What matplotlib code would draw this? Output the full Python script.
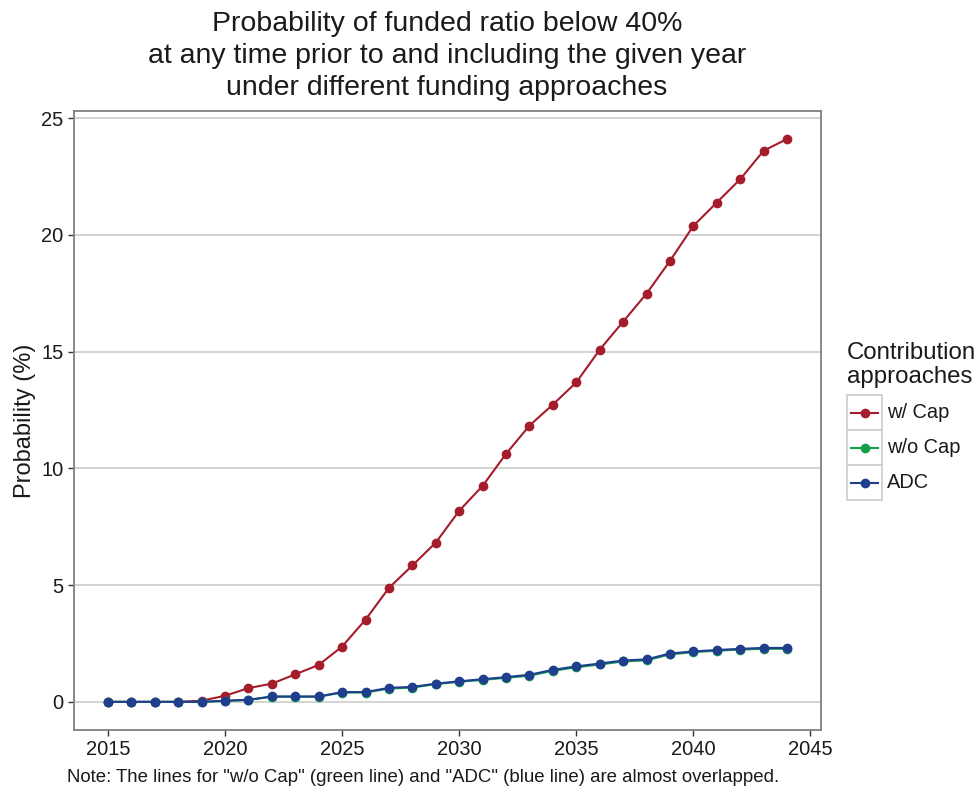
import matplotlib
matplotlib.use("Agg")
import matplotlib.pyplot as plt
from matplotlib.patches import Rectangle

plt.rcParams['font.family'] = ['Liberation Sans', 'DejaVu Sans']

years = list(range(2015, 2045))
w_cap = [0, 0, 0, 0, 0.05, 0.26, 0.59, 0.78, 1.18, 1.58, 2.37, 3.52, 4.88, 5.84,
         6.82, 8.18, 9.25, 10.62, 11.83, 12.73, 13.68, 15.08, 16.28, 17.48, 18.88,
         20.38, 21.38, 22.38, 23.6, 24.1]
adc = [0, 0, 0, 0, 0, 0.05, 0.09, 0.23, 0.23, 0.23, 0.42, 0.42, 0.6, 0.64,
       0.78, 0.88, 0.97, 1.06, 1.16, 1.37, 1.52, 1.64, 1.77, 1.82, 2.07, 2.16,
       2.22, 2.27, 2.31, 2.31]
wo_cap = [0, 0, 0, 0, 0, 0.04, 0.08, 0.22, 0.22, 0.22, 0.4, 0.4, 0.57, 0.61,
          0.76, 0.86, 0.94, 1.03, 1.12, 1.33, 1.48, 1.6, 1.73, 1.78, 2.03, 2.13,
          2.19, 2.24, 2.27, 2.27]

series_names = ["w/ Cap", "w/o Cap", "ADC"]
series_vals = [w_cap, wo_cap, adc]
colors = ["#A51C2B", "#14A04B", "#1F3E8E"]

title = ("Probability of funded ratio below 40%\n"
         "at any time prior to and including the given year\n"
         "under different funding approaches")
ylabel = "Probability (%)"
legend_title = "Contribution\napproaches"
note = 'Note: The lines for "w/o Cap" (green line) and "ADC" (blue line) are almost overlapped.'
xticks = [2015, 2020, 2025, 2030, 2035, 2040, 2045]
yticks = [0, 5, 10, 15, 20, 25]

W, H = 980, 786
fig = plt.figure(figsize=(W / 100, H / 100), dpi=100)
ax = fig.add_axes([74 / W, (H - 730) / H, (821 - 74) / W, (730 - 111) / H])

for name, vals, c in zip(series_names, series_vals, colors):
    ax.plot(years, vals, color=c, lw=1.5, marker='o', markersize=7,
            markeredgewidth=0, label=name)

ax.set_xlim(2013.55, 2045.45)
ax.set_ylim(-1.205, 25.3)
ax.set_xticks(xticks)
ax.set_yticks(yticks)
ax.yaxis.grid(True, color="#D0D0D0", lw=1.3)
ax.xaxis.grid(False)
ax.set_axisbelow(True)
for s in ax.spines.values():
    s.set_color("#808080")
    s.set_linewidth(1.3)
ax.tick_params(axis='both', length=4.5, width=1.0, color="#333333",
               labelsize=14.5, labelcolor="#1a1a1a", pad=3)
ax.set_ylabel(ylabel, fontsize=17, color="#1a1a1a", labelpad=4)

fig.text(447 / W, 1 - 11 / H, title, ha='center', va='top', fontsize=20.5,
         color="#1a1a1a", linespacing=1.3)
fig.text(67 / W, 1 - 777 / H, note, ha='left', va='center', fontsize=13.4,
         color="#1a1a1a")

# legend
fig.text(847 / W, 1 - 342 / H, legend_title, ha='left', va='top', fontsize=17.3,
         color="#1a1a1a", linespacing=1.1)
lax = fig.add_axes([847 / W, (H - 500) / H, 35 / W, 105 / H])
lax.set_xlim(0, 1)
lax.set_ylim(0, 3)
lax.axis('off')
for i, (name, c) in enumerate(zip(series_names, colors)):
    y0 = 2 - i
    lax.add_patch(Rectangle((0, y0), 1, 1, facecolor='white',
                            edgecolor="#CCCCCC", lw=1.2, clip_on=False))
    lax.plot([0.12, 0.88], [y0 + 0.5, y0 + 0.5], color=c, lw=1.5,
             clip_on=False)
    lax.plot([0.5], [y0 + 0.5], 'o', color=c, markersize=7,
             markeredgewidth=0, clip_on=False)
    lax.text(1.13, y0 + 0.5, name, ha='left', va='center', fontsize=14.4,
             color="#1a1a1a", transform=lax.transData)

fig.savefig("out.png", dpi=100, facecolor='white')
